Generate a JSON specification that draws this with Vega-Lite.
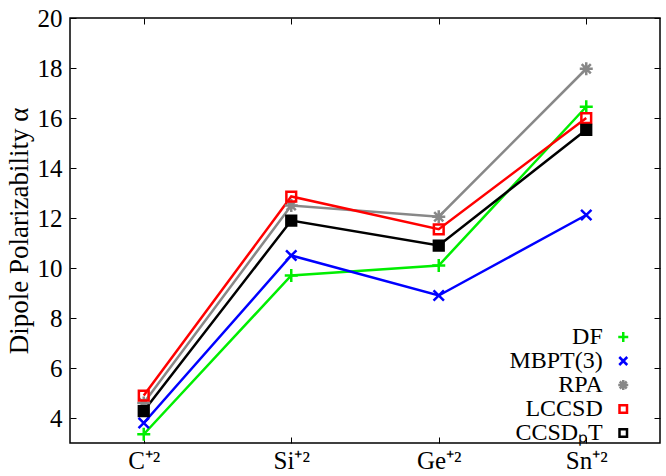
{
  "$schema": "https://vega.github.io/schema/vega-lite/v6.json",
  "width": 590,
  "height": 425,
  "autosize": "none",
  "padding": {"left": 70, "top": 18, "right": 6, "bottom": 33},
  "config": {
    "font": "Liberation Serif",
    "view": {"stroke": "black", "strokeWidth": 1.5},
    "axis": {"grid": false, "domain": false, "tickColor": "black", "tickWidth": 1, "labelColor": "black", "labelFont": "Liberation Serif", "titleFont": "Liberation Serif", "titleColor": "black", "titleFontWeight": "normal"}
  },
  "data": {"values": [
    {"ion": "C⁺²", "series": "DF", "value": 3.35},
    {"ion": "Si⁺²", "series": "DF", "value": 9.7},
    {"ion": "Ge⁺²", "series": "DF", "value": 10.1},
    {"ion": "Sn⁺²", "series": "DF", "value": 16.45},
    {"ion": "C⁺²", "series": "MBPT(3)", "value": 3.8},
    {"ion": "Si⁺²", "series": "MBPT(3)", "value": 10.5},
    {"ion": "Ge⁺²", "series": "MBPT(3)", "value": 8.9},
    {"ion": "Sn⁺²", "series": "MBPT(3)", "value": 12.12},
    {"ion": "C⁺²", "series": "RPA", "value": 4.6},
    {"ion": "Si⁺²", "series": "RPA", "value": 12.5},
    {"ion": "Ge⁺²", "series": "RPA", "value": 12.05},
    {"ion": "Sn⁺²", "series": "RPA", "value": 17.97},
    {"ion": "C⁺²", "series": "LCCSD", "value": 4.9},
    {"ion": "Si⁺²", "series": "LCCSD", "value": 12.86},
    {"ion": "Ge⁺²", "series": "LCCSD", "value": 11.55},
    {"ion": "Sn⁺²", "series": "LCCSD", "value": 16.0},
    {"ion": "C⁺²", "series": "CCSDₚT", "value": 4.28},
    {"ion": "Si⁺²", "series": "CCSDₚT", "value": 11.9},
    {"ion": "Ge⁺²", "series": "CCSDₚT", "value": 10.9},
    {"ion": "Sn⁺²", "series": "CCSDₚT", "value": 15.53}
  ]},
  "resolve": {"axis": {"x": "independent", "y": "independent"}},
  "layer": [
    {
      "mark": {"type": "line", "strokeWidth": 2.5},
      "encoding": {
        "x": {"field": "ion", "type": "ordinal", "scale": {"type": "point", "padding": 0.5, "domain": ["C⁺²", "Si⁺²", "Ge⁺²", "Sn⁺²"]},
          "axis": {"orient": "bottom", "title": null, "labelAngle": 0, "labelFontSize": 25, "tickSize": -6, "labelPadding": 11}},
        "y": {"field": "value", "type": "quantitative", "scale": {"domain": [3, 20], "nice": false, "zero": false},
          "axis": {"orient": "left", "values": [4, 6, 8, 10, 12, 14, 16, 18, 20], "title": "Dipole Polarizability α", "titleFontSize": 27, "labelFontSize": 25, "tickSize": -6, "labelPadding": 14, "titlePadding": 4}},
        "color": {"field": "series", "type": "nominal",
          "scale": {"domain": ["DF", "MBPT(3)", "RPA", "LCCSD", "CCSDₚT"], "range": ["#00ee00", "#0000ff", "#888888", "#ff0000", "#000000"]}},
        "detail": {"field": "series"}
      }
    },
    {
      "mark": {"type": "point", "filled": false, "strokeWidth": 2.5, "size": 169, "opacity": 1},
      "encoding": {
        "x": {"field": "ion", "type": "ordinal", "axis": {"orient": "top", "title": null, "labels": false, "tickSize": -6}},
        "y": {"field": "value", "type": "quantitative", "axis": {"orient": "right", "title": null, "labels": false, "values": [4, 6, 8, 10, 12, 14, 16, 18, 20], "tickSize": -6}},
        "color": {"field": "series", "type": "nominal",
          "legend": {
            "title": null, "orient": "none", "legendX": 517, "legendY": 307,
            "padding": 0, "symbolSize": 100, "symbolStrokeWidth": 2.5, "symbolOffset": 24.25,
            "rowPadding": -7.5,
            "labelFont": "Liberation Serif", "labelFontSize": 24, "labelColor": "black",
            "labelAlign": "right", "labelOffset": -32.5, "labelLimit": 0,
            "encode": {"symbols": {
              "strokeWidth": {"value": 2.5},
              "opacity": {"value": 1}
            }}
          }},
        "shape": {"field": "series", "type": "nominal",
          "scale": {"domain": ["DF", "MBPT(3)", "RPA", "LCCSD", "CCSDₚT"], "range": ["M-1,0H1M0,-1V1", "M-0.8,-0.8L0.8,0.8M-0.8,0.8L0.8,-0.8", "M-1,0H1M0,-1V1M-0.7,-0.7L0.7,0.7M-0.7,0.7L0.7,-0.7", "M-0.75,-0.75H0.75V0.75H-0.75Z", "M-0.75,-0.75H0.75V0.75H-0.75Z"]}},
        "fill": {"condition": {"test": "datum.series === 'CCSDₚT'", "value": "black"}, "value": "transparent"}
      }
    }
  ]
}
